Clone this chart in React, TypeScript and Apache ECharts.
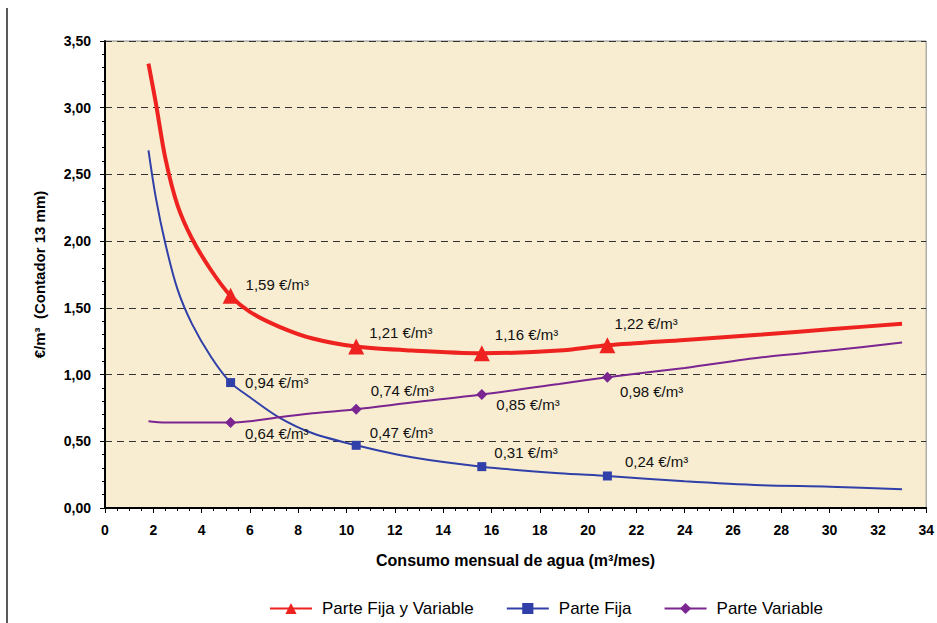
import React, { useEffect, useRef } from "react";
import * as echarts from "echarts";

// Consumption (m³/month) where the curves were read
const xs = [1.8, 2.1, 2.5, 3, 3.6, 4.4, 5.2, 6, 7.2, 8.6, 10.4, 12.7, 15.6, 18.8, 20.8, 24, 27.2, 30, 33];
// €/m³
const fijaVariable = [3.33, 3.04, 2.62, 2.27, 2.02, 1.78, 1.59, 1.47, 1.36, 1.27, 1.21, 1.18, 1.16, 1.18, 1.22, 1.26, 1.3, 1.34, 1.38];
const fija = [2.68, 2.33, 1.98, 1.64, 1.38, 1.13, 0.94, 0.83, 0.68, 0.56, 0.47, 0.38, 0.31, 0.26, 0.24, 0.2, 0.17, 0.16, 0.14];
const variable = [0.65, 0.645, 0.64, 0.64, 0.64, 0.64, 0.64, 0.65, 0.68, 0.71, 0.74, 0.79, 0.85, 0.93, 0.98, 1.05, 1.13, 1.18, 1.24];
// indices of the marked points
const markerIdx = [6, 10, 12, 14];

const seriesNames = ["Parte Fija y Variable", "Parte Fija", "Parte Variable"];
const yTicks = [0, 0.5, 1, 1.5, 2, 2.5, 3, 3.5];

// label offsets (styling only)
const offRed = [[2, -11], [0, -14], [0, -19], [-6, -22]];
const offBlue = [[5, 0], [4, -13], [3, -14], [8, -14]];
const offPurple = [[4, 11], [4, -19], [4, 10], [2, 14]];

const FONT = "Liberation Sans, Arial, sans-serif";
const fmt = (v: number) => v.toFixed(2).replace(".", ",");

function build(vals: number[], size: number, offs: number[][]) {
  return xs.map((x, i) => {
    const k = markerIdx.indexOf(i);
    if (k < 0) return { value: [x, vals[i]], symbol: "none" };
    return {
      value: [x, vals[i]],
      symbolSize: size,
      label: {
        show: true,
        position: "right",
        offset: offs[k],
        formatter: () => fmt(vals[i]) + " €/m³",
        color: "#111",
        fontFamily: FONT,
        fontSize: 15,
      },
    };
  });
}

export default function App() {
  const ref = useRef<HTMLDivElement>(null);
  useEffect(() => {
    const chart = echarts.init(ref.current!, null, { renderer: "svg" });
    chart.setOption({
      animation: false,
      backgroundColor: "#ffffff",
      textStyle: { fontFamily: FONT },
      grid: {
        left: 105,
        top: 41,
        right: 10,
        bottom: 115,
        show: true,
        backgroundColor: "#F8EDD1",
        borderColor: "#8a8a8a",
        borderWidth: 1,
      },
      graphic: [
        {
          type: "line",
          shape: { x1: 7, y1: 8, x2: 7, y2: 623 },
          style: { stroke: "#222", lineWidth: 1.5 },
        },
      ],
      xAxis: {
        type: "value",
        min: 0,
        max: 34,
        interval: 2,
        name: "Consumo mensual de agua (m³/mes)",
        nameLocation: "middle",
        nameGap: 44,
        nameTextStyle: { fontWeight: "bold", fontSize: 16, color: "#000" },
        axisLine: { show: true, lineStyle: { color: "#000", width: 2 } },
        axisTick: { show: true, length: 5, lineStyle: { color: "#000" } },
        minorTick: { show: true, splitNumber: 4, length: 3, lineStyle: { color: "#000" } },
        axisLabel: { fontWeight: "bold", fontSize: 14, color: "#000", margin: 15 },
        splitLine: { show: false },
      },
      yAxis: {
        type: "value",
        min: 0,
        max: 3.5,
        interval: 0.5,
        name: "€/m³  (Contador 13 mm)",
        nameLocation: "middle",
        nameGap: 58,
        nameRotate: 90,
        nameTextStyle: { fontWeight: "bold", fontSize: 15, color: "#000" },
        axisLine: { show: true, lineStyle: { color: "#000", width: 2 } },
        axisTick: { show: true, length: 5, lineStyle: { color: "#000" } },
        minorTick: { show: true, splitNumber: 5, length: 3, lineStyle: { color: "#000" } },
        axisLabel: {
          fontWeight: "bold",
          fontSize: 14,
          color: "#000",
          margin: 14,
          formatter: (v: number) => (yTicks.includes(v) ? fmt(v) : ""),
        },
        splitLine: {
          show: true,
          lineStyle: { color: "#333", type: [7, 5], width: 1 },
        },
      },
      legend: {
        left: 264,
        top: 597,
        padding: [3, 5, 3, 5],
        itemWidth: 42,
        itemHeight: 14,
        itemGap: 32,
        textStyle: { fontSize: 17, color: "#000", padding: [0, 0, 0, 5] },
        data: seriesNames,
      },
      series: [
        {
          name: seriesNames[1],
          type: "line",
          smooth: 0.3,
          symbol: "rect",
          symbolSize: 9,
          z: 3,
          lineStyle: { color: "#3040A8", width: 2 },
          itemStyle: { color: "#3040A8" },
          data: build(fija, 9, offBlue),
        },
        {
          name: seriesNames[2],
          type: "line",
          smooth: 0.3,
          symbol: "diamond",
          symbolSize: 11,
          z: 3,
          lineStyle: { color: "#7A2590", width: 2 },
          itemStyle: { color: "#7A2590" },
          data: build(variable, 11, offPurple),
        },
        {
          name: seriesNames[0],
          type: "line",
          smooth: 0.3,
          symbol: "triangle",
          symbolSize: 16,
          z: 4,
          lineStyle: { color: "#EE2320", width: 4 },
          itemStyle: { color: "#EE2320" },
          data: build(fijaVariable, 16, offRed),
        },
      ],
    });
    return () => chart.dispose();
  }, []);
  return <div ref={ref} style={{ width: 937, height: 623, position: "absolute", left: 0, top: 0 }} />;
}
